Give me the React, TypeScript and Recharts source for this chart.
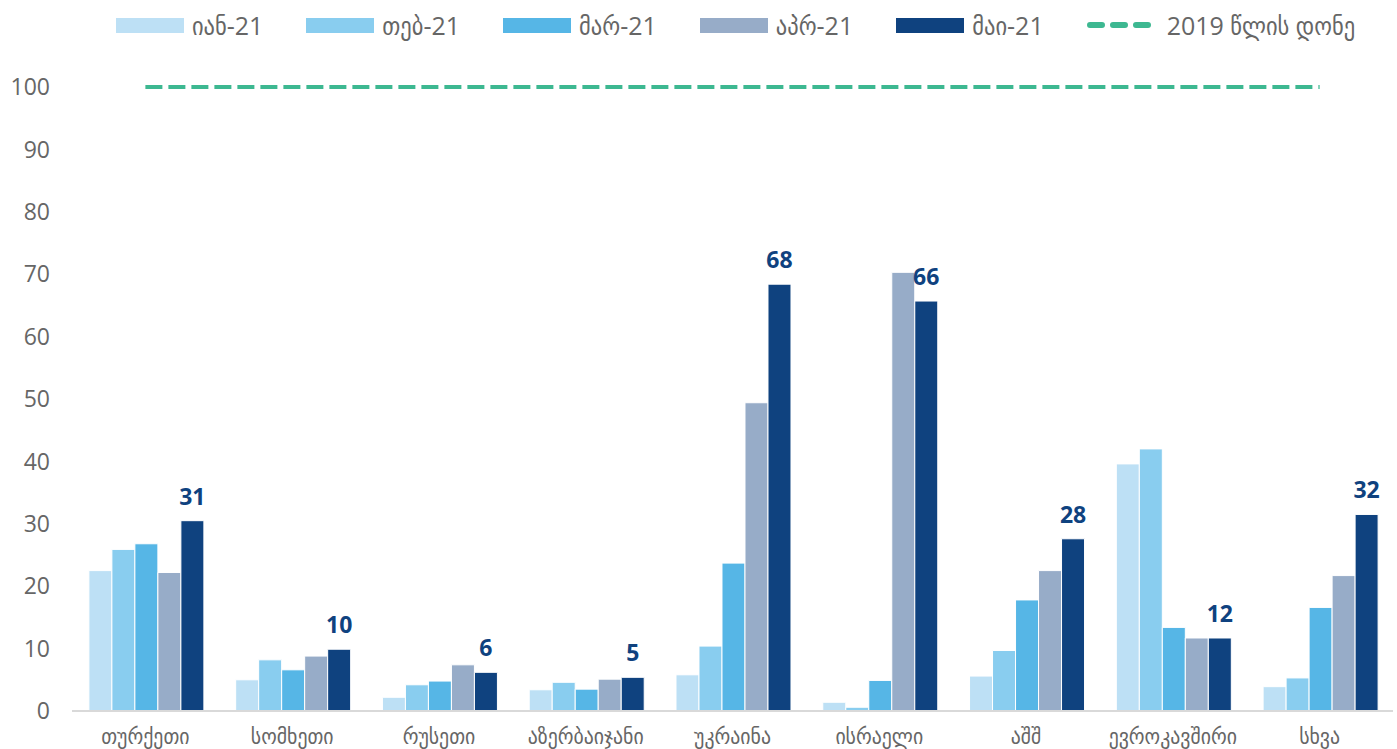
import { Bar, ComposedChart, LabelList, Line, XAxis, YAxis } from "recharts";

document.body.style.margin = "0";

const countries = [
  "თურქეთი",
  "სომხეთი",
  "რუსეთი",
  "აზერბაიჯანი",
  "უკრაინა",
  "ისრაელი",
  "აშშ",
  "ევროკავშირი",
  "სხვა",
];

const jan21 = [22.5, 5.0, 2.2, 3.4, 5.8, 1.4, 5.6, 39.6, 3.9];
const feb21 = [25.9, 8.2, 4.2, 4.6, 10.4, 0.6, 9.7, 42.0, 5.3];
const mar21 = [26.8, 6.6, 4.8, 3.5, 23.7, 4.9, 17.8, 13.4, 16.6];
const apr21 = [22.2, 8.8, 7.4, 5.1, 49.4, 70.3, 22.5, 11.7, 21.7];
const may21 = [30.5, 9.9, 6.2, 5.4, 68.4, 65.7, 27.6, 11.7, 31.5];
const level2019 = [100, 100, 100, 100, 100, 100, 100, 100, 100];

const yTicks = [0, 10, 20, 30, 40, 50, 60, 70, 80, 90, 100];

const SERIES = [
  { key: "jan", name: "იან-21", color: "#BDE0F5" },
  { key: "feb", name: "თებ-21", color: "#89CDEF" },
  { key: "mar", name: "მარ-21", color: "#56B6E6" },
  { key: "apr", name: "აპრ-21", color: "#97ACC8" },
  { key: "may", name: "მაი-21", color: "#0F427F" },
];
const LEVEL_NAME = "2019 წლის დონე";
const LEVEL_COLOR = "#3DB891";

const FONT = "'Open Sans', 'DejaVu Sans Condensed', 'DejaVu Sans', sans-serif";
const TEXT = "#666666";

const data = countries.map((c, i) => ({
  country: c,
  jan: jan21[i],
  feb: feb21[i],
  mar: mar21[i],
  apr: apr21[i],
  may: may21[i],
  level: level2019[i],
}));

function ChartLegend() {
  return (
    <div
      style={{
        position: "absolute",
        top: 11,
        left: 0,
        width: 1397,
        paddingLeft: 74,
        boxSizing: "border-box",
        display: "flex",
        justifyContent: "center",
        alignItems: "center",
        gap: 43,
        fontFamily: FONT,
        fontSize: 25,
        color: TEXT,
        lineHeight: "28px",
      }}
    >
      {SERIES.map((s) => (
        <div key={s.key} style={{ display: "flex", alignItems: "center", gap: 8 }}>
          <span style={{ width: 68, height: 15, background: s.color, display: "inline-block" }} />
          <span>{s.name}</span>
        </div>
      ))}
      <div style={{ display: "flex", alignItems: "center", gap: 16 }}>
        <svg width={64} height={8}>
          <line
            x1={3}
            y1={4}
            x2={61}
            y2={4}
            stroke={LEVEL_COLOR}
            strokeWidth={6}
            strokeDasharray="12 11"
            strokeLinecap="round"
          />
        </svg>
        <span>{LEVEL_NAME}</span>
      </div>
    </div>
  );
}

export default function App() {
  return (
    <div style={{ position: "relative", width: 1397, height: 749, background: "#fff" }}>
      <ChartLegend />
      <ComposedChart
        width={1397}
        height={749}
        data={data}
        margin={{ top: 87, right: 4, bottom: 0, left: 0 }}
        barCategoryGap="11.5%"
        barGap={0}
      >
        <XAxis
          dataKey="country"
          axisLine={{ stroke: "#D9D9D9", strokeWidth: 2 }}
          tickLine={false}
          height={38}
          tickMargin={11}
          interval={0}
          tick={{ fill: TEXT, fontSize: 22, fontFamily: FONT }}
        />
        <YAxis
          domain={[0, 100]}
          ticks={yTicks}
          width={72}
          axisLine={false}
          tickLine={false}
          tickMargin={16}
          tick={{ fill: TEXT, fontSize: 23, fontFamily: FONT }}
        />
        {SERIES.map((s) => (
          <Bar
            key={s.key}
            dataKey={s.key}
            name={s.name}
            fill={s.color}
            stroke="#ffffff"
            strokeWidth={1}
            isAnimationActive={false}
          >
            {s.key === "may" && (
              <LabelList
                dataKey="may"
                position="top"
                offset={16}
                formatter={(v: number) => Math.round(v)}
                style={{ fill: "#0F427F", fontSize: 23, fontWeight: 700, fontFamily: FONT }}
              />
            )}
          </Bar>
        ))}
        <Line
          dataKey="level"
          name={LEVEL_NAME}
          stroke={LEVEL_COLOR}
          strokeWidth={4}
          strokeDasharray="17 6"
          dot={false}
          activeDot={false}
          isAnimationActive={false}
        />
      </ComposedChart>
    </div>
  );
}
